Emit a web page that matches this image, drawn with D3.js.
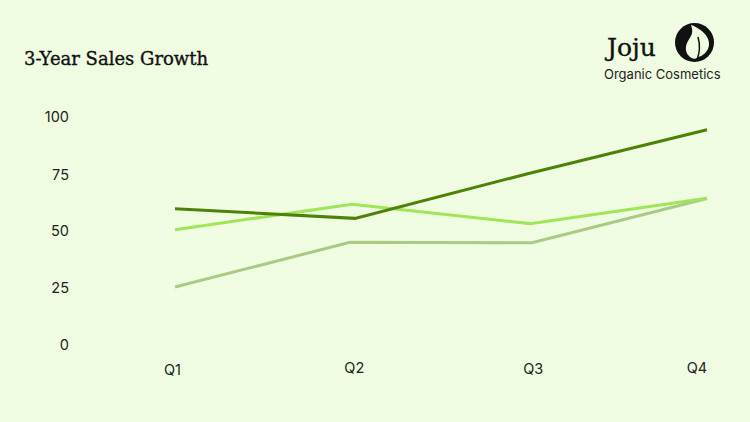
<!DOCTYPE html>
<html>
<head>
<meta charset="utf-8">
<script src="https://cdn.jsdelivr.net/npm/d3@7"></script>
<style>
  html, body { margin: 0; padding: 0; background: #f1fde3; }
  svg { display: block; }
  .tick-label { font-family: Inter, "Open Sans", sans-serif; font-size: 14.5px; fill: #222; }
</style>
</head>
<body>
<script>
const quarters = ['Q1', 'Q2', 'Q3', 'Q4'];
const yTicks = [0, 25, 50, 75, 100];

// os vertices das linhas nao caem exatamente no mesmo trimestre
const darkQuarter = [0, 1.015, 2.0, 3];
const brightQuarter = [0, 0.998, 2.002, 3];
const paleQuarter = [0, 0.987, 2.013, 3];

const darkSales = [59.3, 55.1, 74.9, 94];
const brightSales = [50.1, 61.3, 52.8, 63.9];
const paleSales = [25, 44.6, 44.4, 63.8];

const width = 750, height = 422;

const svg = d3.select('body').append('svg')
  .attr('width', width)
  .attr('height', height);

svg.append('rect')
  .attr('width', width)
  .attr('height', height)
  .attr('fill', '#f1fde3');

const x = d3.scaleLinear().domain([0, 3]).range([175, 707]);
const y = d3.scaleLinear().domain([0, 100]).range([344, 116]);

const line = d3.line()
  .x(d => x(d[0]))
  .y(d => y(d[1]));

[
  { quarter: paleQuarter, values: paleSales, color: '#abcb85' },
  { quarter: brightQuarter, values: brightSales, color: '#9fe658' },
  { quarter: darkQuarter, values: darkSales, color: '#4d8209' }
].forEach(s => {
  svg.append('path')
    .attr('d', line(d3.zip(s.quarter, s.values)))
    .attr('fill', 'none')
    .attr('stroke', s.color)
    .attr('stroke-width', 3);
});

// ajustes finos dos rotulos
const yLabelNudge = { 0: 0.5, 25: 0.5, 50: 0.5, 75: 2, 100: 1 };
const xLabelNudge = { Q1: [-2.5, 1], Q2: [2, -1], Q3: [3.5, -0.5], Q4: [-10, -1] };

svg.selectAll('.y-label').data(yTicks).enter().append('text')
  .attr('class', 'tick-label y-label')
  .attr('x', 69)
  .attr('y', d => y(d) + yLabelNudge[d])
  .attr('dy', '0.35em')
  .attr('text-anchor', 'end')
  .text(d => d);

svg.selectAll('.x-label').data(quarters).enter().append('text')
  .attr('class', 'tick-label x-label')
  .attr('x', (d, i) => x(i) + xLabelNudge[d][0])
  .attr('y', d => 369 + xLabelNudge[d][1])
  .attr('dy', '0.35em')
  .attr('text-anchor', 'middle')
  .text(d => d);

// titulo
svg.append('text')
  .attr('x', 24)
  .attr('y', 65)
  .attr('font-family', '"DejaVu Serif", serif')
  .attr('font-size', 18)
  .attr('fill', '#111')
  .attr('stroke', '#111')
  .attr('stroke-width', 0.35)
  .text('3-Year Sales Growth');

// logo
svg.append('text')
  .attr('x', 607)
  .attr('y', 56)
  .attr('font-family', '"DejaVu Serif", serif')
  .attr('font-size', 25)
  .attr('fill', '#111')
  .attr('stroke', '#111')
  .attr('stroke-width', 0.35)
  .text('Joju');

svg.append('text')
  .attr('x', 604)
  .attr('y', 79)
  .attr('font-family', 'Inter, sans-serif')
  .attr('font-size', 13)
  .attr('fill', '#222')
  .text('Organic Cosmetics');

svg.append('circle')
  .attr('cx', 694.5)
  .attr('cy', 42.5)
  .attr('r', 19.5)
  .attr('fill', '#111');

svg.append('path')
  .attr('d', 'M691 25 C700 28 710 36 709 45 C708 52 703 56 698 57 C695 60 692 59 689 56 C685 52 685 46 688 41 C691 36 694 33 691 25 Z')
  .attr('fill', '#f1fde3');

svg.append('path')
  .attr('d', 'M698 37 C700 44 700 52 697 60')
  .attr('fill', 'none')
  .attr('stroke', '#111')
  .attr('stroke-width', 1.5);
</script>
</body>
</html>
